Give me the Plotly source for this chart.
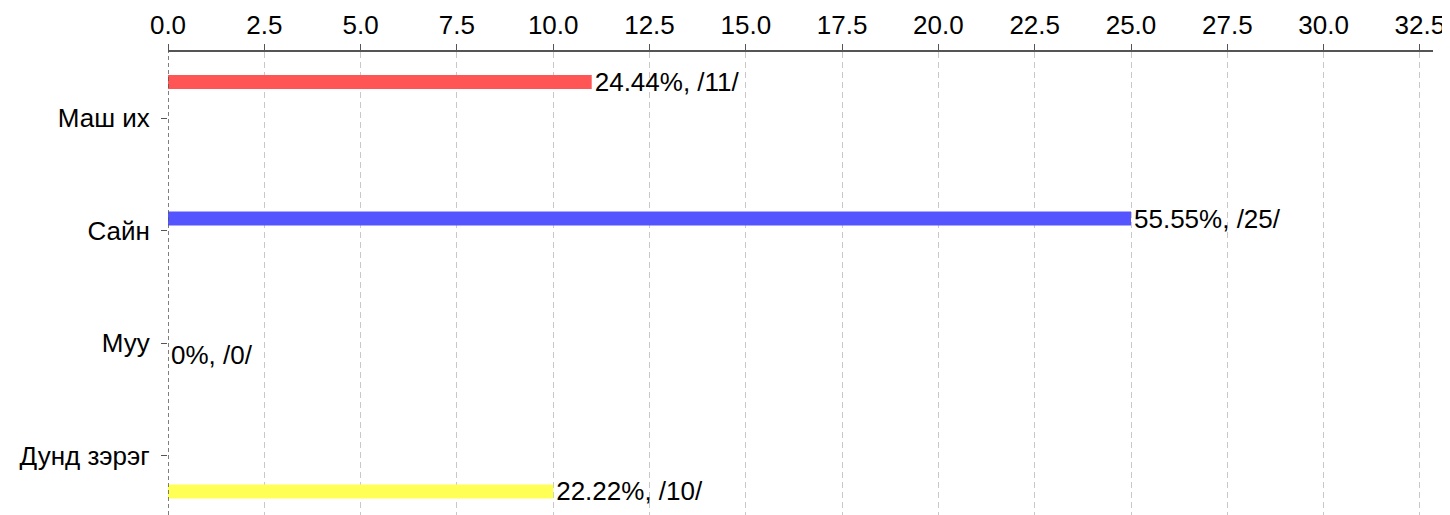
import plotly.graph_objects as go

categories = ["Маш их", "Сайн", "Муу", "Дунд зэрэг"]
counts = [11, 25, 0, 10]
percents = ["24.44%", "55.55%", "0%", "22.22%"]
colors = ["#ff5555", "#5555ff", "#55ff55", "#ffff55"]

FONT = "Liberation Sans, Arial, sans-serif"
FS = 26

fig = go.Figure()
for i, cat in enumerate(categories):
    fig.add_trace(go.Bar(
        y=[cat], x=[counts[i]], orientation="h",
        offsetgroup=str(i), alignmentgroup="g",
        marker=dict(color=colors[i], line=dict(width=0)),
        text=[f"{percents[i]}, /{counts[i]}/"],
        textposition="outside", cliponaxis=False, constraintext="none",
        textfont=dict(size=FS, color="black", family=FONT),
        showlegend=False, name=cat,
    ))

fig.add_shape(type="line", xref="x", yref="paper", x0=0, x1=0, y0=0, y1=1,
              line=dict(color="#555555", width=1.5, dash="4px,3px"), layer="above")

fig.update_layout(
    width=1442, height=507,
    margin=dict(l=160, r=17, t=44, b=0, autoexpand=False),
    paper_bgcolor="white", plot_bgcolor="white",
    barmode="group", bargap=0.147, bargroupgap=0.42,
    font=dict(family=FONT, size=FS, color="black"),
    xaxis=dict(
        side="top", range=[0, 32.84], dtick=2.5, tick0=0, tickformat=".1f",
        showgrid=True, gridcolor="#c8c8c8", griddash="6px,4px", gridwidth=1,
        zeroline=False, showline=True, linecolor="#555555", linewidth=1.5,
        ticks="outside", ticklen=6, tickcolor="#555555", automargin=False,
        tickfont=dict(size=FS, color="black", family=FONT),
    ),
    yaxis=dict(
        type="category", categoryorder="array", categoryarray=categories,
        range=[3.529, -0.587], showgrid=False, zeroline=False, showline=False,
        ticks="outside", ticklen=6, tickcolor="#555555", automargin=False,
        ticklabelstandoff=6,
        tickfont=dict(size=FS, color="black", family=FONT),
    ),
)

fig.write_html("out.html")
